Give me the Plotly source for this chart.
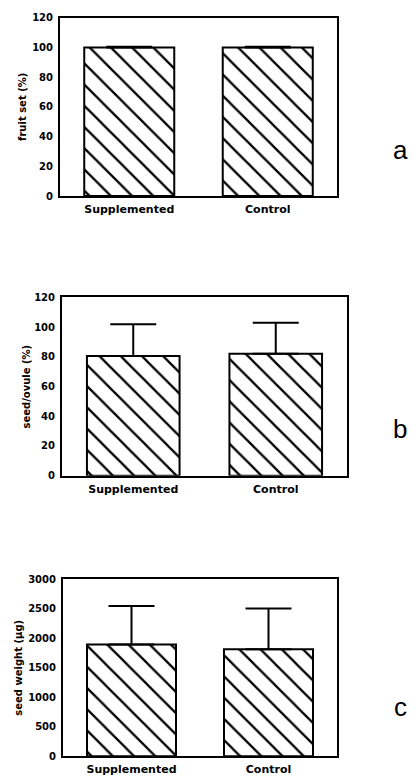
import plotly.graph_objects as go

# ---- data ----
categories = ["Supplemented", "Control"]

fruit_set = [100, 100]
fruit_set_err = [0.5, 0.5]

seed_ovule = [80.5, 82]
seed_ovule_err = [21.5, 21]

seed_weight = [1890, 1810]
seed_weight_err = [655, 690]

y_titles = ["fruit set (%)", "seed/ovule (%)", "seed weight (μg)"]
panel_letters = ["a", "b", "c"]
y_ranges = [[0, 120], [0, 120], [0, 3000]]
y_dticks = [20, 20, 500]

W, H = 418, 779
FONT = "DejaVu Sans"

# panel geometry (pixels): left, right, top, bottom
boxes = [(60, 337, 12, 193), (62, 347, 296, 477), (63, 337, 582, 762)]
ytitle_x = [23, 27, 19]
letter_y = [146, 430, 712]

series = [(fruit_set, fruit_set_err), (seed_ovule, seed_ovule_err), (seed_weight, seed_weight_err)]

fig = go.Figure()
annotations = []
for i, ((vals, errs), (l, r, t, b)) in enumerate(zip(series, boxes)):
    k = "" if i == 0 else str(i + 1)
    fig.add_trace(go.Bar(
        x=categories, y=vals, width=0.65,
        xaxis="x" + k, yaxis="y" + k,
        marker=dict(color="white", line=dict(color="black", width=2),
                    pattern=dict(shape="\\", fgcolor="black", bgcolor="white",
                                 fgopacity=1, size=15, solidity=0.15,
                                 fillmode="replace")),
        error_y=dict(type="data", array=errs, arrayminus=[0] * len(errs),
                     symmetric=False, color="black", thickness=2, width=23),
        showlegend=False, hoverinfo="skip",
    ))
    xd = [l / W, r / W]
    yd = [1 - b / H, 1 - t / H]
    fig.update_layout(**{
        "xaxis" + k: dict(domain=xd, anchor="y" + k, range=[-0.5, 1.5],
                          showline=True, mirror=True, linecolor="black", linewidth=2,
                          showgrid=False, zeroline=False, ticks="",
                          ticklabelstandoff=2,
                          tickfont=dict(family=FONT, size=11, color="black", weight="bold")),
        "yaxis" + k: dict(domain=yd, anchor="x" + k, range=y_ranges[i], dtick=y_dticks[i],
                          showline=True, mirror=True, linecolor="black", linewidth=2,
                          showgrid=False, zeroline=False, ticks="",
                          ticklabelstandoff=3,
                          tickfont=dict(family=FONT, size=10, color="black", weight="bold")),
    })
    annotations.append(dict(
        text=y_titles[i], xref="paper", yref="paper",
        x=ytitle_x[i] / W, y=1 - (t + b) / 2 / H, textangle=-90,
        showarrow=False, xanchor="center", yanchor="middle",
        font=dict(family=FONT, size=10, color="black", weight="bold"),
    ))
    annotations.append(dict(
        text=panel_letters[i], xref="paper", yref="paper",
        x=400 / W, y=1 - letter_y[i] / H, showarrow=False,
        xanchor="center", yanchor="middle",
        font=dict(family="Liberation Sans", size=26, color="black"),
    ))

fig.update_layout(
    width=W, height=H, autosize=False,
    margin=dict(l=0, r=0, t=0, b=0),
    paper_bgcolor="white", plot_bgcolor="white",
    annotations=annotations,
    bargap=0.35,
)

fig.write_html(
    "out.html",
    config={"displayModeBar": False},
    post_script="document.body.style.margin='0';document.body.style.overflow='hidden';",
)
